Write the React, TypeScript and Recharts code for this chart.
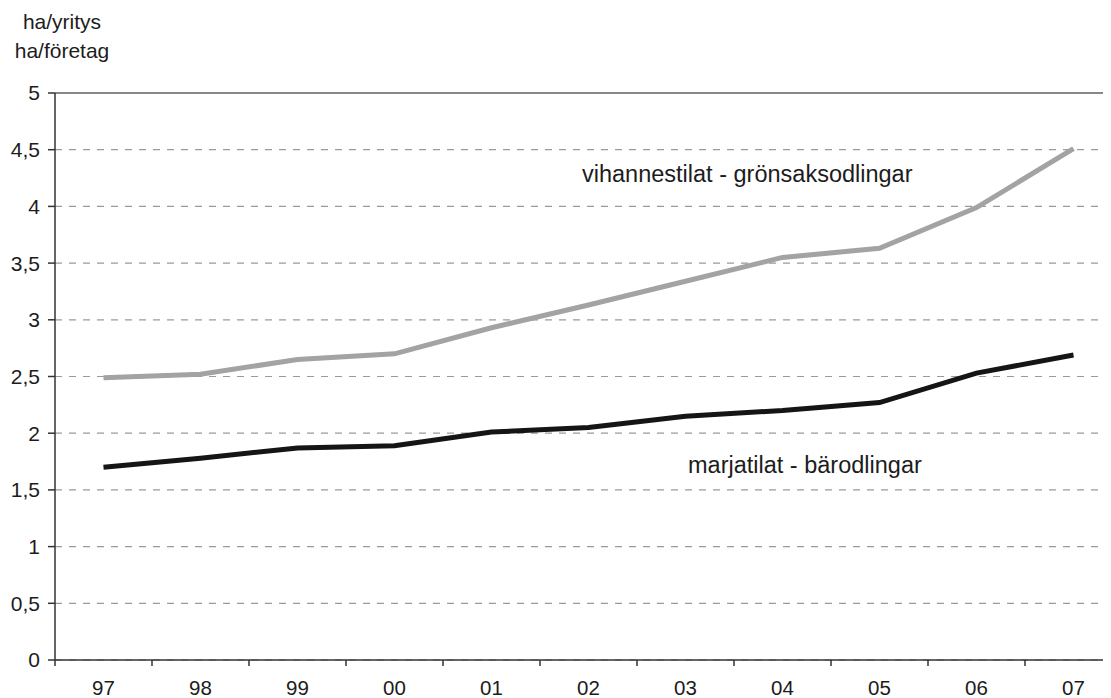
import React from "react";
import { LineChart, Line, XAxis, YAxis, CartesianGrid, ReferenceLine } from "recharts";

const years = ["97", "98", "99", "00", "01", "02", "03", "04", "05", "06", "07"];
const vegetables = [2.49, 2.52, 2.65, 2.7, 2.93, 3.13, 3.34, 3.55, 3.63, 3.99, 4.51];
const berries = [1.7, 1.78, 1.87, 1.89, 2.01, 2.05, 2.15, 2.2, 2.27, 2.53, 2.69];
const yTicks = [0, 0.5, 1, 1.5, 2, 2.5, 3, 3.5, 4, 4.5, 5];

const data = years.map((y, i) => ({ x: i + 0.5, year: y, veg: vegetables[i], berry: berries[i] }));
const xTicks: number[] = [];
for (let i = 0; i <= years.length * 2; i++) xTicks.push(i / 2);

const FONT = "'Liberation Sans', Arial, sans-serif";

const XTick = (props: any) => {
  const { x, y, payload } = props;
  const v = payload.value as number;
  if (Number.isInteger(v)) {
    return <line x1={x} x2={x} y1={y} y2={y + 6} stroke="#333" strokeWidth={1.5} />;
  }
  const idx = Math.floor(v);
  return (
    <text x={x} y={y + 35} textAnchor="middle" fontSize={20.5} fill="#1c1c1c" fontFamily={FONT}>
      {years[idx]}
    </text>
  );
};

export default function App() {
  return (
    <div style={{ position: "relative", marginLeft: -8, marginTop: -8, width: 1111, height: 698, overflow: "hidden", background: "#fff" }}>
      <LineChart width={1140} height={698} data={data} margin={{ top: 93, right: 18, left: 0, bottom: 0 }}>
        <CartesianGrid horizontal vertical={false} stroke="#9a9a9a" strokeWidth={1.2} strokeDasharray="7 7" />
        <ReferenceLine y={5} stroke="#888" strokeWidth={2} ifOverflow="visible" />
        <XAxis
          dataKey="x"
          type="number"
          domain={[0, years.length]}
          ticks={xTicks}
          interval={0}
          tick={<XTick />}
          tickLine={false}
          tickSize={0}
          tickMargin={0}
          height={38}
          axisLine={{ stroke: "#333", strokeWidth: 1.5 }}
        />
        <YAxis
          type="number"
          domain={[0, 5]}
          ticks={yTicks}
          interval={0}
          width={55}
          tickSize={7}
          tickMargin={8}
          tickFormatter={(v: number) => String(v).replace(".", ",")}
          tick={{ fontSize: 21, fill: "#1c1c1c", fontFamily: FONT }}
          tickLine={{ stroke: "#333", strokeWidth: 1.5 }}
          axisLine={{ stroke: "#333", strokeWidth: 1.5 }}
        />
        <Line dataKey="veg" type="linear" stroke="#a3a3a3" strokeWidth={5} dot={false} isAnimationActive={false} />
        <Line dataKey="berry" type="linear" stroke="#151515" strokeWidth={5} dot={false} isAnimationActive={false} />
      </LineChart>
      <svg width={1111} height={698} style={{ position: "absolute", left: 0, top: 0, pointerEvents: "none" }}>
        <text x={62} y={29} textAnchor="middle" fontSize={21} fill="#1c1c1c" fontFamily={FONT}>ha/yritys</text>
        <text x={62} y={58} textAnchor="middle" fontSize={21} fill="#1c1c1c" fontFamily={FONT}>ha/företag</text>
        <text x={582} y={182} fontSize={23.5} fill="#1c1c1c" fontFamily={FONT}>vihannestilat - grönsaksodlingar</text>
        <text x={688} y={473} fontSize={23.5} fill="#1c1c1c" fontFamily={FONT}>marjatilat - bärodlingar</text>
      </svg>
    </div>
  );
}
